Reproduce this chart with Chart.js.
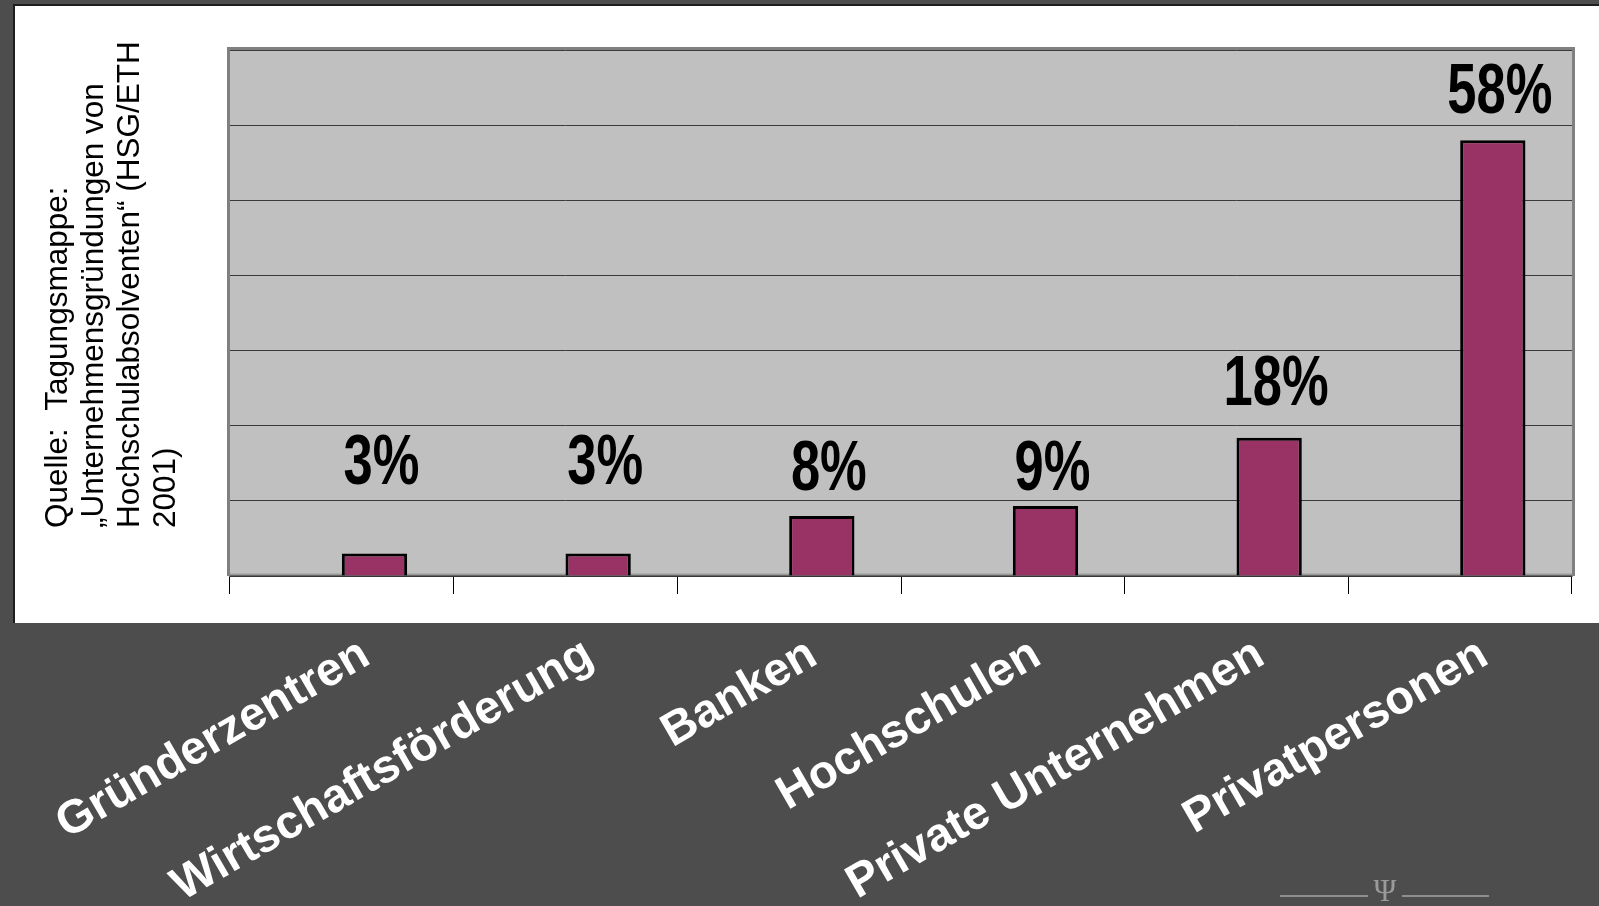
<!DOCTYPE html>
<html>
<head>
<meta charset="utf-8">
<script src="https://cdn.jsdelivr.net/npm/chart.js@4.4.0/dist/chart.umd.min.js"></script>
<style>
  html, body { margin:0; padding:0; width:1599px; height:906px; overflow:hidden; background:#4d4d4d; }
  #panel { position:absolute; left:13px; top:4px; width:1600px; height:619px; background:#ffffff;
           border-left:2px solid #1e1e1e; border-top:2px solid #1e1e1e; box-sizing:border-box; }
  #c { position:absolute; left:0; top:0; }
  .rule { position:absolute; top:895px; height:2px; background:#8e8e8e; }
  #psi { position:absolute; left:1369px; top:875px; width:32px; text-align:center;
         font:31px "Liberation Serif", "DejaVu Serif", serif; color:#9a9a9a; line-height:32px; }
</style>
</head>
<body>
<div id="panel"></div>
<canvas id="c" width="1599" height="906"></canvas>
<div class="rule" style="left:1280px;width:88px"></div>
<div id="psi">Ψ</div>
<div class="rule" style="left:1402px;width:87px"></div>
<script>
// ---- data ----
const categories = ['Gründerzentren', 'Wirtschaftsförderung', 'Banken', 'Hochschulen', 'Private Unternehmen', 'Privatpersonen'];
const shares = [3, 3, 8, 9.3, 18.4, 58];          // percent (bar heights)
const emptySeries = [null, null, null, null, null, null]; // empty first series of the original chart
const labelAnchor = [12.3, 12.3, 11.5, 11.5, 22.7, 61.6]; // where the value labels sit (in % units)
const yMin = 0, yMax = 70, yStep = 10;
const sourceLines = ['Quelle:  Tagungsmappe:', '„Unternehmensgründungen von', 'Hochschulabsolventen“ (HSG/ETH', '2001)'];

// ---- plugins ----
const plotFrame = {
  id: 'plotFrame',
  beforeDraw(chart) {
    const {ctx, chartArea: a} = chart;
    ctx.save();
    ctx.fillStyle = '#c0c0c0';
    ctx.fillRect(a.left, a.top, a.right - a.left, a.bottom - a.top);
    ctx.restore();
  },
  beforeDatasetsDraw(chart) {
    const {ctx, chartArea: a} = chart;
    ctx.save();
    ctx.strokeStyle = '#808080';
    ctx.lineWidth = 3;
    ctx.beginPath();
    ctx.moveTo(a.left - 1.5, a.bottom);
    ctx.lineTo(a.left - 1.5, a.top - 1.5);
    ctx.lineTo(a.right + 1.5, a.top - 1.5);
    ctx.lineTo(a.right + 1.5, a.bottom);
    ctx.stroke();
    ctx.strokeStyle = '#9a9a9a';
    ctx.lineWidth = 2;
    ctx.beginPath();
    ctx.moveTo(a.left, a.bottom - 1.5);
    ctx.lineTo(a.right, a.bottom - 1.5);
    ctx.stroke();
    ctx.restore();
  }
};

const valueLabels = {
  id: 'valueLabels',
  afterDatasetsDraw(chart) {
    const {ctx} = chart;
    const meta = chart.getDatasetMeta(1);
    const y = chart.scales.y;
    ctx.save();
    ctx.fillStyle = '#000';
    ctx.textAlign = 'center';
    ctx.textBaseline = 'alphabetic';
    ctx.font = 'bold 70px "Liberation Sans", Arial, sans-serif';
    meta.data.forEach((bar, i) => {
      const txt = Math.round(shares[i]) + '%';
      ctx.save();
      ctx.translate(bar.x + 7, y.getPixelForValue(labelAnchor[i]));
      ctx.scale(0.75, 1);
      ctx.fillText(txt, 0, 0);
      ctx.restore();
    });
    ctx.restore();
  }
};

const sourceTitle = {
  id: 'sourceTitle',
  afterDraw(chart) {
    const {ctx, chartArea: a} = chart;
    ctx.save();
    ctx.fillStyle = '#000';
    ctx.font = '31.5px "Liberation Sans", Arial, sans-serif';
    ctx.textAlign = 'left';
    ctx.textBaseline = 'alphabetic';
    sourceLines.forEach((line, i) => {
      ctx.save();
      ctx.translate(67 + i * 36, a.bottom - 48);
      ctx.rotate(-Math.PI / 2);
      ctx.fillText(line, 0, 0);
      ctx.restore();
    });
    ctx.restore();
  }
};

new Chart(document.getElementById('c'), {
  type: 'bar',
  data: {
    labels: categories,
    datasets: [
      { label: 'leer', data: emptySeries, backgroundColor: '#993366', borderColor: '#000', borderWidth: 3 },
      { label: 'Anteil', data: shares, backgroundColor: '#993366', borderColor: '#000', borderWidth: 3 }
    ]
  },
  options: {
    responsive: false,
    devicePixelRatio: 1,
    animation: false,
    layout: { padding: { left: 0, right: 27, top: 50, bottom: 0 } },
    plugins: { legend: { display: false }, tooltip: { enabled: false }, title: { display: false } },
    datasets: { bar: { categoryPercentage: 0.584, barPercentage: 1.0 } },
    scales: {
      x: {
        offset: true,
        grid: { offset: true, drawOnChartArea: false, drawTicks: true, tickLength: 18, color: '#000', lineWidth: 1 },
        border: { display: true, color: '#333333', width: 1.5 },
        ticks: {
          color: '#ffffff',
          font: { family: '"Liberation Sans", Arial, sans-serif', size: 47, weight: 'bold' },
          minRotation: 30, maxRotation: 30,
          padding: 33,
          labelOffset: 24,
          autoSkip: false
        },
        afterFit(scale) { scale.height = 330; scale.paddingLeft = 0; scale.paddingRight = 0; }
      },
      y: {
        min: yMin, max: yMax,
        ticks: { display: false, stepSize: yStep },
        grid: { color: '#3a3a3a', lineWidth: 1, drawTicks: false },
        border: { display: false },
        afterFit(scale) { scale.width = 230; }
      }
    }
  },
  plugins: [plotFrame, valueLabels, sourceTitle]
});
</script>
</body>
</html>
